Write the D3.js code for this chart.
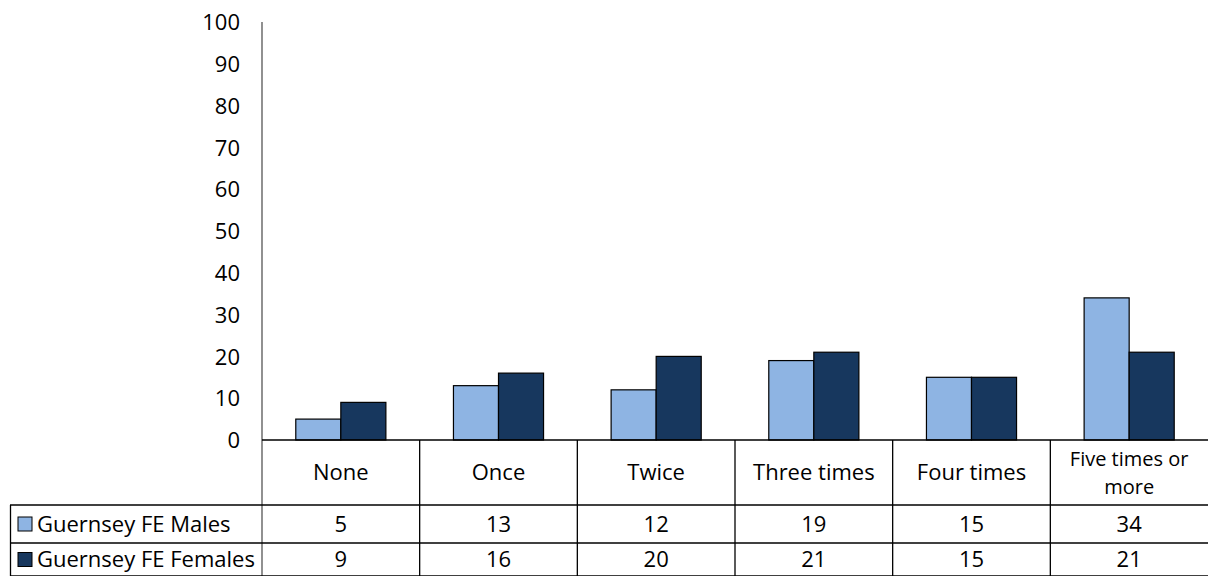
<!DOCTYPE html>
<html>
<head>
<meta charset="utf-8">
<script src="https://cdn.jsdelivr.net/npm/d3@7"></script>
<style>
  html, body { margin: 0; padding: 0; background: #fff; }
  svg { display: block; }
  text { font-family: "Open Sans", Lato, sans-serif; fill: #000; }
</style>
</head>
<body>
<svg id="chart" width="1208" height="576"></svg>
<script>
// Frequency categories and survey percentages
const categories = ["None", "Once", "Twice", "Three times", "Four times", "Five times or more"];
const categoryLines = [["None"], ["Once"], ["Twice"], ["Three times"], ["Four times"], ["Five times or", "more"]];
const seriesNames = ["Guernsey FE Males", "Guernsey FE Females"];
const males = [5, 13, 12, 19, 15, 34];
const females = [9, 16, 20, 21, 15, 21];
const yTicks = [0, 10, 20, 30, 40, 50, 60, 70, 80, 90, 100];
const colors = ["#8EB4E3", "#17375E"];

const series = [males, females];

const svg = d3.select("#chart");
const W = 1208;
const FS = "22px";
const FS_WRAP = "20px";
const plotLeft = 262, plotRight = 1208, plotTop = 22, plotBottom = 440;
const rowBottoms = [505, 543, 576];
const tableLeft = 10;

const x = d3.scaleBand().domain(categories).range([plotLeft, plotRight]).paddingInner(0).paddingOuter(0);
const y = d3.scaleLinear().domain([0, 100]).range([plotBottom, plotTop]);

// Bars: each category holds two bars with a 150% gap
const gapRatio = 1.5;
const barW = x.bandwidth() / (2 + gapRatio);
const pad = barW * gapRatio / 2;

series.forEach((vals, si) => {
  svg.append("g")
    .selectAll("rect")
    .data(vals)
    .join("rect")
    .attr("x", (d, i) => x(categories[i]) + pad + si * barW)
    .attr("y", d => y(d))
    .attr("width", barW)
    .attr("height", d => y(0) - y(d))
    .attr("fill", colors[si])
    .attr("stroke", "#000")
    .attr("stroke-width", 1.2);
});

// Y axis
const yAxis = d3.axisLeft(y).tickValues(yTicks).tickSize(0).tickPadding(22).tickFormat(d3.format("d"));
const gy = svg.append("g").attr("transform", `translate(${plotLeft},0)`).call(yAxis);
gy.select(".domain").remove();
gy.selectAll("text").style("font-size", FS).style("font-family", "'Open Sans', Lato, sans-serif").attr("dy", "0.35em");

const lineColor = "#000";
// Vertical axis line extended down through the table
svg.append("line").attr("x1", plotLeft).attr("x2", plotLeft).attr("y1", plotTop).attr("y2", 576)
  .attr("stroke", "#555").attr("stroke-width", 1.3);

// Horizontal lines of the data table
svg.append("line").attr("x1", plotLeft).attr("x2", W).attr("y1", plotBottom).attr("y2", plotBottom)
  .attr("stroke", lineColor).attr("stroke-width", 1.3);
rowBottoms.forEach(yy => {
  svg.append("line").attr("x1", tableLeft).attr("x2", W).attr("y1", yy).attr("y2", yy)
    .attr("stroke", lineColor).attr("stroke-width", 1.3);
});
// Left border of legend column
svg.append("line").attr("x1", tableLeft + 0.5).attr("x2", tableLeft + 0.5).attr("y1", rowBottoms[0]).attr("y2", 576)
  .attr("stroke", lineColor).attr("stroke-width", 1.3);

// Column separators
categories.slice(1).forEach(c => {
  svg.append("line").attr("x1", x(c)).attr("x2", x(c)).attr("y1", plotBottom).attr("y2", 576)
    .attr("stroke", lineColor).attr("stroke-width", 1.3);
});

// Category labels; the two-line label is set a little smaller so its lines sit apart
categories.forEach((c, i) => {
  const lines = categoryLines[i];
  const cx = x(c) + x.bandwidth() / 2;
  const midY = (plotBottom + rowBottoms[0]) / 2;
  const lh = 28;
  const t = svg.append("text")
    .attr("x", cx)
    .attr("y", midY - (lines.length - 1) / 2 * lh)
    .attr("text-anchor", "middle")
    .style("font-size", lines.length > 1 ? FS_WRAP : FS);
  lines.forEach((ln, j) => {
    t.append("tspan")
      .attr("x", cx)
      .attr("dy", j === 0 ? "0.35em" : lh)
      .text(ln);
  });
});

// Value rows with legend keys
const rowTops = [rowBottoms[0], rowBottoms[1]];
series.forEach((vals, si) => {
  const cy = (rowTops[si] + rowBottoms[si + 1]) / 2;
  svg.append("rect").attr("x", 18).attr("y", cy - 7).attr("width", 14).attr("height", 14)
    .attr("fill", colors[si]).attr("stroke", "#000").attr("stroke-width", 1);
  svg.append("text").attr("x", 37).attr("y", cy).attr("dy", "0.35em")
    .style("font-size", FS).text(seriesNames[si]);
  vals.forEach((v, i) => {
    svg.append("text")
      .attr("x", x(categories[i]) + x.bandwidth() / 2)
      .attr("y", cy)
      .attr("dy", "0.35em")
      .attr("text-anchor", "middle")
      .style("font-size", FS)
      .text(v);
  });
});
</script>
</body>
</html>
